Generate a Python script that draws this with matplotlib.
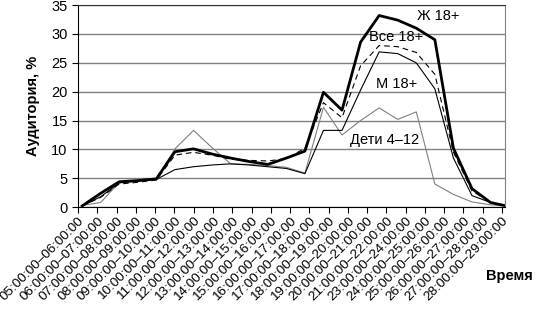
import numpy as np
import matplotlib
matplotlib.use("Agg")
import matplotlib.pyplot as plt
from matplotlib.transforms import ScaledTranslation

plt.rcParams['font.family'] = ['Liberation Sans', 'DejaVu Sans']

hours = [5, 6, 7, 8, 9, 10, 11, 12, 13, 14, 15, 16, 17, 18, 19, 20, 21, 23, 24, 25, 26, 27, 28]
labels = ['%02d:00:00\u2013%02d:00:00' % (h, h + 1) for h in hours]

# 24 hourly readings; the chart spaces them a bit tighter than the 23 labelled ticks
women = [0.2, 2.4, 4.4, 4.6, 4.9, 9.6, 10.1, 9.2, 8.5, 7.9, 7.4, 8.5, 9.7, 19.9, 16.8, 28.6, 33.2, 32.4, 31.0, 29.0, 10.2, 3.2, 0.8, 0.1]
adults = [0.2, 1.7, 4.0, 4.3, 4.7, 9.0, 9.5, 9.0, 8.3, 8.1, 8.0, 8.4, 10.2, 18.1, 15.5, 24.5, 28.0, 27.8, 26.8, 23.0, 9.5, 2.8, 0.8, 0.1]
men = [0.2, 1.8, 4.2, 4.5, 4.8, 6.5, 7.0, 7.3, 7.5, 7.3, 7.0, 6.7, 5.8, 13.3, 13.3, 20.3, 26.9, 26.6, 25.0, 20.5, 8.5, 2.0, 0.8, 0.1]
kids = [0.3, 0.8, 4.3, 4.6, 4.9, 10.1, 13.3, 10.3, 7.5, 7.4, 7.2, 6.9, 5.9, 17.3, 12.5, 15.0, 17.2, 15.2, 16.5, 4.0, 2.2, 0.9, 0.4, 0.2]

step = 18.57 / 19.27
x = 4 / 19.27 + step * np.arange(len(women))
xmax = 22.16

fig = plt.figure(figsize=(5.35, 3.11), dpi=100)
ax = fig.add_axes([0.146, 0.334, 0.798, 0.6495])

ax.plot(x, kids, color='#808080', lw=0.8)
ax.plot(x, men, color='black', lw=0.8)
ax.plot(x, adults, color='black', lw=0.8, ls=(0, (5, 3.5)))
ax.plot(x, women, color='black', lw=2)

ax.set_ylim(0, 35)
ax.set_xlim(0, xmax)
ax.set_yticks(range(0, 36, 5))
ax.yaxis.grid(True, color='#808080', lw=1)
ax.set_axisbelow(True)

ax.set_xticks(range(len(hours)))
ax.set_xticklabels(labels, rotation=45, ha='right', va='top', rotation_mode='anchor', fontsize=9.7)
shift = ScaledTranslation(8.5 / 100, 0, fig.dpi_scale_trans)
for lab in ax.get_xticklabels():
    lab.set_transform(lab.get_transform() + shift)
ax.tick_params(axis='y', labelsize=10.5, length=4, direction='out')
ax.tick_params(axis='x', length=4, direction='out', pad=1.5)

ax.spines['top'].set_color('#333333')
ax.spines['right'].set_color('#808080')
ax.spines['left'].set_color('black')
ax.spines['bottom'].set_color('black')

ax.set_ylabel('Аудитория, %', fontsize=10.5, fontweight='bold', labelpad=8)
fig.text(0.996, 0.113, 'Время', fontsize=10.5, fontweight='bold', ha='right', va='center')

ax.text(18.7, 33.1, 'Ж 18+', fontsize=10.5, ha='center', va='center')
ax.text(16.5, 29.4, 'Все 18+', fontsize=10.5, ha='center', va='center')
ax.text(16.54, 21.4, 'М 18+', fontsize=10.5, ha='center', va='center')
ax.text(15.93, 11.6, 'Дети 4\u201312', fontsize=10.5, ha='center', va='center')

fig.savefig('out.png', dpi=100)
